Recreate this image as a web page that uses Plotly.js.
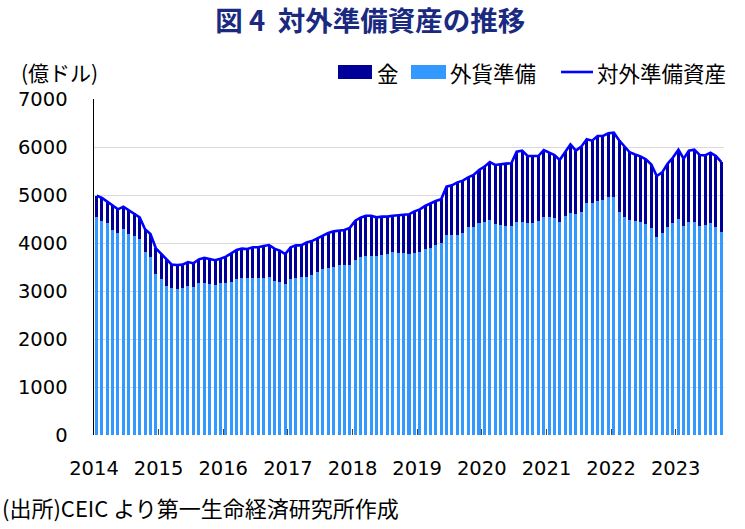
<!DOCTYPE html>
<html>
<head>
<meta charset="utf-8">
<script src="https://cdn.plot.ly/plotly-3.0.1.min.js"></script>
<style>html,body{margin:0;padding:0;background:#fff;}#chart{width:745px;height:529px;}</style>
</head>
<body>
<div id="chart"></div>
<script>
// Monthly, 2014-01 .. 2023-09 (億ドル)
var startYear = 2014, monthCount = 117;
var yearLabels = ['2014','2015','2016','2017','2018','2019','2020','2021','2022','2023'];
var seriesNames = ['金', '外貨準備', '対外準備資産'];

var forex = [
  4535, 4465, 4410, 4280, 4215, 4285, 4188, 4150, 4076, 3819, 3701, 3354,
  3243, 3104, 3063, 3049, 3060, 3104, 3090, 3160, 3160, 3146, 3132, 3160,
  3160, 3194, 3257, 3264, 3264, 3264, 3264, 3278, 3285, 3208, 3188, 3146,
  3257, 3271, 3285, 3299, 3326, 3396, 3451, 3472, 3493, 3535, 3535, 3542,
  3646, 3701, 3729, 3729, 3729, 3743, 3764, 3819, 3799, 3799, 3771, 3790,
  3819, 3868, 3903, 3958, 4007, 4167, 4167, 4167, 4201, 4326, 4340, 4424,
  4444, 4479, 4396, 4375, 4354, 4354, 4444, 4444, 4410, 4410, 4465, 4535,
  4535, 4514, 4444, 4563, 4618, 4604, 4653, 4826, 4840, 4882, 4896, 4951,
  4965, 4650, 4540, 4480, 4465, 4440, 4400, 4306, 4132, 4201, 4326, 4424,
  4493, 4354, 4438, 4438, 4354, 4368, 4410, 4326, 4236
];
var gold = [
  451, 473, 451, 498, 486, 472, 500, 468, 459, 466, 487, 535,
  528, 542, 486, 493, 489, 500, 486, 500, 530, 519, 508, 514,
  555, 591, 597, 618, 611, 646, 646, 660, 673, 674, 652, 625,
  653, 680, 666, 711, 714, 701, 704, 736, 750, 715, 735, 773,
  819, 827, 840, 840, 806, 806, 785, 750, 784, 784, 826, 870,
  882, 903, 923, 917, 903, 1007, 1034, 1097, 1098, 1042, 1077, 1097,
  1146, 1209, 1229, 1271, 1299, 1306, 1459, 1480, 1402, 1402, 1347, 1403,
  1347, 1319, 1285, 1340, 1438, 1320, 1354, 1334, 1292, 1347, 1333, 1334,
  1334, 1490, 1470, 1410, 1380, 1365, 1345, 1329, 1264, 1269, 1324, 1356,
  1452, 1401, 1486, 1507, 1479, 1457, 1472, 1486, 1449
];
var total = [
  4986, 4938, 4861, 4778, 4701, 4757, 4688, 4618, 4535, 4285, 4188, 3889,
  3771, 3646, 3549, 3542, 3549, 3604, 3576, 3660, 3690, 3665, 3640, 3674,
  3715, 3785, 3854, 3882, 3875, 3910, 3910, 3938, 3958, 3882, 3840, 3771,
  3910, 3951, 3951, 4010, 4040, 4097, 4155, 4208, 4243, 4250, 4270, 4315,
  4465, 4528, 4569, 4569, 4535, 4549, 4549, 4569, 4583, 4583, 4597, 4660,
  4701, 4771, 4826, 4875, 4910, 5174, 5201, 5264, 5299, 5368, 5417, 5521,
  5590, 5688, 5625, 5646, 5653, 5660, 5903, 5924, 5812, 5812, 5812, 5938,
  5882, 5833, 5729, 5903, 6056, 5924, 6007, 6160, 6132, 6229, 6229, 6285,
  6299, 6140, 6010, 5890, 5845, 5805, 5745, 5635, 5396, 5470, 5650, 5780,
  5945, 5755, 5924, 5945, 5833, 5825, 5882, 5812, 5685
];

var months = [];
for (var i = 0; i < monthCount; i++) {
  var y = startYear + Math.floor(i / 12), m = (i % 12) + 1;
  months.push(y + '-' + (m < 10 ? '0' + m : m) + '-01');
}
var yearTickVals = yearLabels.map(function (y) { return y + '-01-01'; });

var JP = '"Noto Sans CJK JP", "Noto Sans", sans-serif';
var NUM = '"DejaVu Sans", "Noto Sans CJK JP", sans-serif';
var C_GOLD = '#000099', C_FX = '#3399FF', C_LINE = '#0000FF';

var traces = [
  {
    type: 'bar', name: seriesNames[1], x: months, y: forex,
    xperiod: 'M1', xperiodalignment: 'middle',
    marker: { color: C_FX, line: { width: 0 } }
  },
  {
    type: 'bar', name: seriesNames[0], x: months, y: gold,
    xperiod: 'M1', xperiodalignment: 'middle',
    marker: { color: C_GOLD, line: { width: 0 } }
  },
  {
    type: 'scatter', mode: 'lines', name: seriesNames[2], x: months, y: total,
    xperiod: 'M1', xperiodalignment: 'middle',
    line: { color: C_LINE, width: 2.6 }
  }
];

// plot area in pixels: x 94..724, y 99..435
function px(xp) { return (xp - 94) / 630; }
function py(yp) { return (435 - yp) / 336; }

var legY = 72;
var shapes = [
  { type: 'rect', xref: 'paper', yref: 'paper', x0: px(338), x1: px(372), y0: py(legY + 7), y1: py(legY - 7),
    fillcolor: C_GOLD, line: { width: 0 } },
  { type: 'rect', xref: 'paper', yref: 'paper', x0: px(411), x1: px(446), y0: py(legY + 7), y1: py(legY - 7),
    fillcolor: C_FX, line: { width: 0 } },
  { type: 'line', xref: 'paper', yref: 'paper', x0: px(561), x1: px(593), y0: py(legY), y1: py(legY),
    line: { color: C_LINE, width: 2.6 } }
];

var legendText = [
  { t: seriesNames[0], x: 375 },
  { t: seriesNames[1], x: 448 },
  { t: seriesNames[2], x: 595 }
];

var annotations = legendText.map(function (d) {
  return { text: d.t, xref: 'paper', yref: 'paper', x: px(d.x), xanchor: 'left',
    y: py(legY), yanchor: 'middle', showarrow: false,
    font: { family: JP, size: 21.5, color: '#000' } };
});
annotations.push({
  text: '(億ドル)', xref: 'paper', yref: 'paper',
  x: px(19), xanchor: 'left', y: py(legY), yanchor: 'middle',
  showarrow: false, font: { family: JP, size: 21, color: '#000' }
});
annotations.push({
  text: '(出所)CEIC より第一生命経済研究所作成', xref: 'paper', yref: 'paper',
  x: px(0), xanchor: 'left', y: py(507), yanchor: 'middle',
  showarrow: false, font: { family: JP, size: 22, color: '#000' }
});

var layout = {
  width: 745, height: 529,
  margin: { l: 94, r: 21, t: 99, b: 94 },
  paper_bgcolor: '#fff', plot_bgcolor: '#fff',
  font: { family: JP, size: 18, color: '#000' },
  barmode: 'stack', bargap: 0.42,
  showlegend: false,
  title: {
    text: '<b>図 4  対外準備資産の推移</b>',
    font: { family: JP, size: 27.5, color: '#1a2a80' },
    x: 0.497, xanchor: 'center', xref: 'container',
    y: 1 - 21 / 529, yanchor: 'middle', yref: 'container'
  },
  xaxis: {
    type: 'date',
    range: ['2014-01-01', '2023-10-01'],
    tickmode: 'array', tickvals: yearTickVals, ticktext: yearLabels,
    ticks: 'inside', ticklen: 6, tickcolor: '#444', tickwidth: 1,
    showgrid: false, showline: false, zeroline: false,
    tickfont: { family: NUM, size: 19.5, color: '#000' },
    ticklabelstandoff: 19
  },
  yaxis: {
    range: [0, 7000], dtick: 1000, tick0: 0,
    showgrid: true, gridcolor: '#d9d9d9', gridwidth: 1,
    showline: true, linecolor: '#000', linewidth: 1.5,
    zeroline: false, ticks: '',
    tickfont: { family: NUM, size: 19.5, color: '#000' },
    ticklabelstandoff: 21
  },
  shapes: shapes,
  annotations: annotations
};

Plotly.newPlot('chart', traces, layout, { displayModeBar: false, staticPlot: true });
</script>
</body>
</html>
